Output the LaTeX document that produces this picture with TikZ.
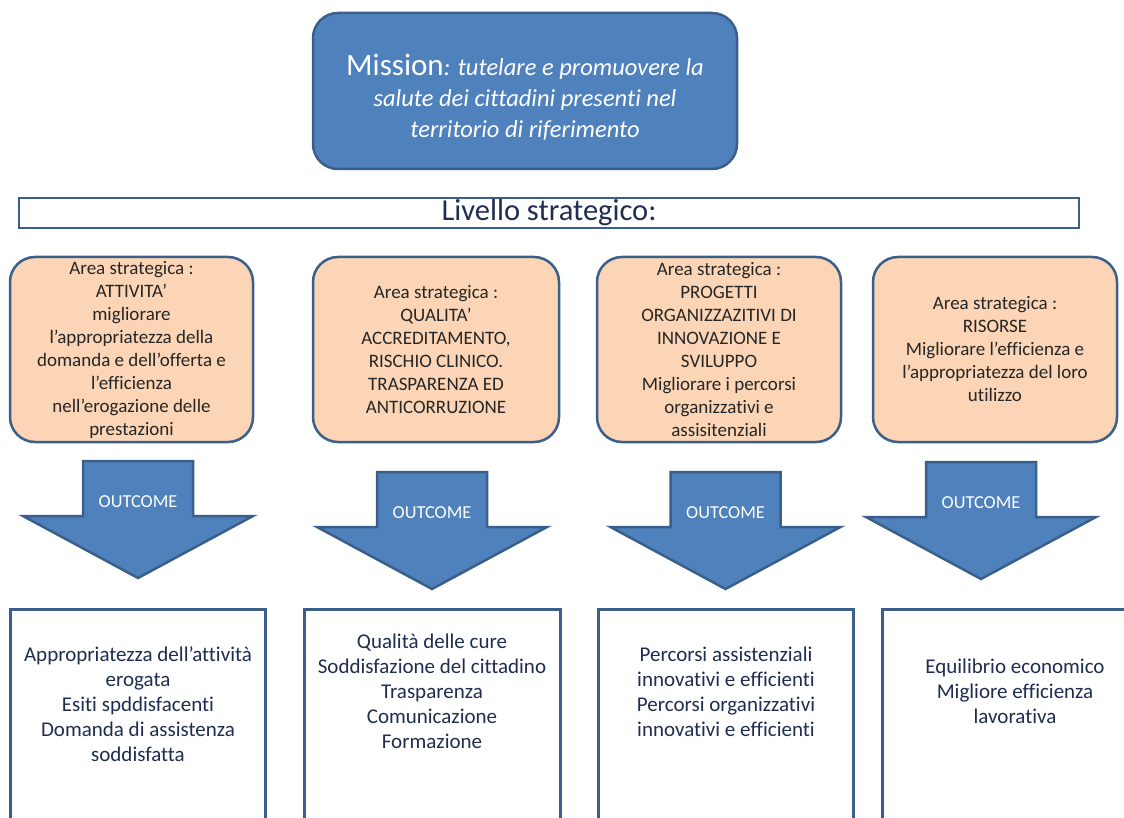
\documentclass[tikz,border=0pt]{standalone}
\usepackage{fontspec}
\setmainfont[Ligatures={NoCommon}]{Carlito}
\definecolor{mblue}{HTML}{4F81BD}
\definecolor{bblue}{HTML}{3A5F8B}
\definecolor{peach}{HTML}{FBD5B5}
\definecolor{navy}{HTML}{1F2D50}
\definecolor{dtext}{HTML}{262626}
\tikzset{
  missionbox/.style={draw=bblue,fill=mblue,line width=2.5pt,rounded corners=25pt,minimum width=424pt,minimum height=156pt,inner sep=0pt},
  levelbar/.style={draw=bblue,fill=white,line width=2.5pt,minimum width=1060pt,minimum height=30pt,inner sep=0pt,text=navy,font=\fontsize{30.5}{34}\selectfont},
  areabox/.style={draw=bblue,fill=peach,line width=2.5pt,rounded corners=25pt,minimum height=185pt,inner sep=0pt,align=center,text=dtext,font=\fontsize{19}{23}\selectfont},
  arrowshape/.style={draw=bblue,fill=mblue,line width=2.5pt,line join=miter},
  outtxt/.style={text=white,font=\fontsize{18.3}{20}\selectfont,inner sep=0pt},
  outbox/.style={draw=bblue,fill=white,line width=3pt,minimum width=255pt,minimum height=240pt,inner sep=0pt},
  outtext/.style={align=center,text=navy,font=\fontsize{21}{25}\selectfont,inner sep=0pt},
  outarrow/.pic={
    \path[arrowshape] (-55,0) -- (55,0) -- (55,55) -- (115,55) -- (0,117) -- (-115,55) -- (-55,55) -- cycle;
    \node[outtxt] (-label) at (0,41) {OUTCOME};
  }
}
\begin{document}
\begin{tikzpicture}[x=1pt,y=-1pt]
\useasboundingbox (0,0) rectangle (1124,818);
\clip (0,0) rectangle (1124,818);
\fill[white] (0,0) rectangle (1124,818);

% Mission
\node[missionbox] (mission) at (525,91) {};
\node[align=center,text=white,inner sep=0pt,font=\fontsize{24.5}{31}\selectfont\itshape] (missiontxt) at (525,97)
  {{\upshape\fontsize{31}{31}\selectfont Mission}: tutelare e promuovere la\\ salute dei cittadini presenti nel\\ territorio di riferimento};

% Level bar
\node[levelbar] (livello) at (549,213) {Livello strategico:};

% Area boxes
\node[areabox,minimum width=243pt] (area1) at (131.5,349.5) {Area strategica :\\ ATTIVITA’\\ migliorare\\ l’appropriatezza della\\ domanda e dell’offerta e\\ l’efficienza\\ nell’erogazione delle\\ prestazioni};
\node[areabox,minimum width=246pt] (area2) at (436,349.5) {Area strategica :\\ QUALITA’\\ ACCREDITAMENTO,\\ RISCHIO CLINICO.\\ TRASPARENZA ED\\ ANTICORRUZIONE};
\node[areabox,minimum width=244pt] (area3) at (719,349.5) {Area strategica :\\ PROGETTI\\ ORGANIZZAZITIVI DI\\ INNOVAZIONE E\\ SVILUPPO\\ Migliorare i percorsi\\ organizzativi e\\ assisitenziali};
\node[areabox,minimum width=244pt] (area4) at (995,349.5) {Area strategica :\\ RISORSE\\ Migliorare l’efficienza e\\ l’appropriatezza del loro\\ utilizzo};

% Outcome arrows
\pic (arr1) at (138,461) {outarrow};
\pic (arr2) at (432,472) {outarrow};
\pic (arr3) at (725.5,472) {outarrow};
\pic (arr4) at (981,462) {outarrow};

% Outcome boxes
\node[outbox] (out1) at (137.5,729) {};
\node[outbox,minimum width=256pt] (out2) at (432,729) {};
\node[outbox] (out3) at (725.5,729) {};
\node[outbox,minimum width=260pt] (out4) at (1012,729) {};

\node[outtext] (out1txt) at (138,704.5) {Appropriatezza dell’attività\\ erogata\\ Esiti spddisfacenti\\ Domanda di assistenza\\ soddisfatta};
\node[outtext] (out2txt) at (432,691) {Qualità delle cure\\ Soddisfazione del cittadino\\ Trasparenza\\ Comunicazione\\ Formazione};
\node[outtext] (out3txt) at (726,691.5) {Percorsi assistenziali\\ innovativi e efficienti\\ Percorsi organizzativi\\ innovativi e efficienti};
\node[outtext] (out4txt) at (1015,691) {Equilibrio economico\\ Migliore efficienza\\ lavorativa};
\end{tikzpicture}
\end{document}
